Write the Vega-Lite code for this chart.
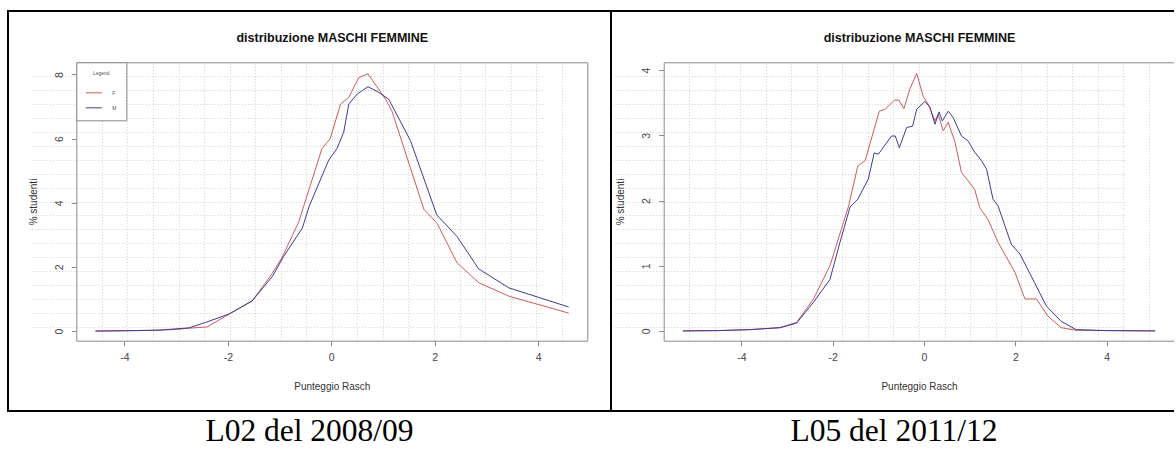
{
  "$schema": "https://vega.github.io/schema/vega-lite/v6.json",
  "padding": {"left": 7, "top": 10, "right": -4, "bottom": -4},
  "background": "white",
  "columns": 2,
  "spacing": 0,
  "bounds": "flush",
  "config": {
    "view": {"stroke": "black", "strokeWidth": 2},
    "font": "Liberation Sans",
    "axis": {"labelFont": "Liberation Sans", "titleFont": "Liberation Sans", "labelOverlap": false, "labelFlush": false}
  },
  "datasets": {
    "a": [
      {"x": -4.56, "pct": 0, "sex": "F"}, {"x": -4.0, "pct": 0.01, "sex": "F"}, {"x": -3.5, "pct": 0.02, "sex": "F"},
      {"x": -3.0, "pct": 0.05, "sex": "F"}, {"x": -2.75, "pct": 0.09, "sex": "F"}, {"x": -2.4, "pct": 0.13, "sex": "F"},
      {"x": -1.92, "pct": 0.58, "sex": "F"}, {"x": -1.53, "pct": 0.94, "sex": "F"}, {"x": -1.14, "pct": 1.8, "sex": "F"},
      {"x": -0.95, "pct": 2.3, "sex": "F"}, {"x": -0.63, "pct": 3.4, "sex": "F"}, {"x": -0.18, "pct": 5.69, "sex": "F"},
      {"x": -0.02, "pct": 6.0, "sex": "F"}, {"x": 0.18, "pct": 7.08, "sex": "F"}, {"x": 0.34, "pct": 7.29, "sex": "F"},
      {"x": 0.53, "pct": 7.9, "sex": "F"}, {"x": 0.71, "pct": 8.02, "sex": "F"}, {"x": 1.05, "pct": 7.23, "sex": "F"},
      {"x": 1.17, "pct": 6.87, "sex": "F"}, {"x": 1.79, "pct": 3.8, "sex": "F"}, {"x": 2.05, "pct": 3.35, "sex": "F"},
      {"x": 2.43, "pct": 2.13, "sex": "F"}, {"x": 2.85, "pct": 1.51, "sex": "F"}, {"x": 3.43, "pct": 1.09, "sex": "F"},
      {"x": 4.59, "pct": 0.56, "sex": "F"},
      {"x": -4.56, "pct": 0, "sex": "M"}, {"x": -4.0, "pct": 0.01, "sex": "M"}, {"x": -3.33, "pct": 0.03, "sex": "M"},
      {"x": -2.75, "pct": 0.1, "sex": "M"}, {"x": -2.43, "pct": 0.27, "sex": "M"}, {"x": -1.98, "pct": 0.53, "sex": "M"},
      {"x": -1.53, "pct": 0.94, "sex": "M"}, {"x": -1.14, "pct": 1.7, "sex": "M"}, {"x": -0.92, "pct": 2.33, "sex": "M"},
      {"x": -0.56, "pct": 3.21, "sex": "M"}, {"x": -0.43, "pct": 3.88, "sex": "M"}, {"x": -0.05, "pct": 5.33, "sex": "M"},
      {"x": 0.11, "pct": 5.69, "sex": "M"}, {"x": 0.24, "pct": 6.2, "sex": "M"}, {"x": 0.34, "pct": 7.08, "sex": "M"},
      {"x": 0.5, "pct": 7.39, "sex": "M"}, {"x": 0.71, "pct": 7.62, "sex": "M"}, {"x": 0.92, "pct": 7.44, "sex": "M"},
      {"x": 1.11, "pct": 7.23, "sex": "M"}, {"x": 1.53, "pct": 5.94, "sex": "M"}, {"x": 2.04, "pct": 3.62, "sex": "M"},
      {"x": 2.43, "pct": 2.95, "sex": "M"}, {"x": 2.85, "pct": 1.94, "sex": "M"}, {"x": 3.43, "pct": 1.35, "sex": "M"},
      {"x": 4.59, "pct": 0.75, "sex": "M"}
    ],
    "b": [
      {"x": -5.28, "pct": 0, "sex": "F"}, {"x": -4.5, "pct": 0.005, "sex": "F"}, {"x": -3.81, "pct": 0.02, "sex": "F"},
      {"x": -3.15, "pct": 0.05, "sex": "F"}, {"x": -2.79, "pct": 0.13, "sex": "F"}, {"x": -2.42, "pct": 0.49, "sex": "F"},
      {"x": -2.06, "pct": 1.0, "sex": "F"}, {"x": -1.65, "pct": 1.92, "sex": "F"}, {"x": -1.45, "pct": 2.53, "sex": "F"},
      {"x": -1.29, "pct": 2.61, "sex": "F"}, {"x": -0.98, "pct": 3.37, "sex": "F"}, {"x": -0.85, "pct": 3.4, "sex": "F"},
      {"x": -0.65, "pct": 3.54, "sex": "F"}, {"x": -0.55, "pct": 3.54, "sex": "F"}, {"x": -0.44, "pct": 3.41, "sex": "F"},
      {"x": -0.31, "pct": 3.71, "sex": "F"}, {"x": -0.16, "pct": 3.95, "sex": "F"}, {"x": -0.02, "pct": 3.6, "sex": "F"},
      {"x": 0.09, "pct": 3.48, "sex": "F"}, {"x": 0.24, "pct": 3.22, "sex": "F"}, {"x": 0.31, "pct": 3.32, "sex": "F"},
      {"x": 0.42, "pct": 3.07, "sex": "F"}, {"x": 0.53, "pct": 3.2, "sex": "F"}, {"x": 0.68, "pct": 2.89, "sex": "F"},
      {"x": 0.82, "pct": 2.43, "sex": "F"}, {"x": 0.97, "pct": 2.3, "sex": "F"}, {"x": 1.11, "pct": 2.17, "sex": "F"},
      {"x": 1.22, "pct": 1.89, "sex": "F"}, {"x": 1.4, "pct": 1.71, "sex": "F"}, {"x": 1.62, "pct": 1.36, "sex": "F"},
      {"x": 1.99, "pct": 0.9, "sex": "F"}, {"x": 2.21, "pct": 0.49, "sex": "F"}, {"x": 2.46, "pct": 0.49, "sex": "F"},
      {"x": 2.71, "pct": 0.23, "sex": "F"}, {"x": 3.0, "pct": 0.05, "sex": "F"}, {"x": 3.33, "pct": 0.01, "sex": "F"},
      {"x": 4.0, "pct": 0.005, "sex": "F"}, {"x": 5.06, "pct": 0, "sex": "F"},
      {"x": -5.28, "pct": 0, "sex": "M"}, {"x": -4.5, "pct": 0.005, "sex": "M"}, {"x": -3.81, "pct": 0.02, "sex": "M"},
      {"x": -3.15, "pct": 0.05, "sex": "M"}, {"x": -2.79, "pct": 0.12, "sex": "M"}, {"x": -2.42, "pct": 0.44, "sex": "M"},
      {"x": -2.06, "pct": 0.79, "sex": "M"}, {"x": -1.84, "pct": 1.36, "sex": "M"}, {"x": -1.62, "pct": 1.9, "sex": "M"},
      {"x": -1.45, "pct": 2.02, "sex": "M"}, {"x": -1.22, "pct": 2.33, "sex": "M"}, {"x": -1.09, "pct": 2.73, "sex": "M"},
      {"x": -1.0, "pct": 2.71, "sex": "M"}, {"x": -0.71, "pct": 2.99, "sex": "M"}, {"x": -0.63, "pct": 2.99, "sex": "M"},
      {"x": -0.54, "pct": 2.81, "sex": "M"}, {"x": -0.38, "pct": 3.12, "sex": "M"}, {"x": -0.25, "pct": 3.14, "sex": "M"},
      {"x": -0.16, "pct": 3.4, "sex": "M"}, {"x": 0.02, "pct": 3.52, "sex": "M"}, {"x": 0.13, "pct": 3.43, "sex": "M"},
      {"x": 0.24, "pct": 3.17, "sex": "M"}, {"x": 0.33, "pct": 3.36, "sex": "M"}, {"x": 0.4, "pct": 3.22, "sex": "M"},
      {"x": 0.53, "pct": 3.37, "sex": "M"}, {"x": 0.64, "pct": 3.27, "sex": "M"}, {"x": 0.82, "pct": 2.99, "sex": "M"},
      {"x": 0.97, "pct": 2.91, "sex": "M"}, {"x": 1.11, "pct": 2.74, "sex": "M"}, {"x": 1.26, "pct": 2.61, "sex": "M"},
      {"x": 1.37, "pct": 2.48, "sex": "M"}, {"x": 1.51, "pct": 2.02, "sex": "M"}, {"x": 1.62, "pct": 1.92, "sex": "M"},
      {"x": 1.91, "pct": 1.33, "sex": "M"}, {"x": 2.1, "pct": 1.18, "sex": "M"}, {"x": 2.42, "pct": 0.74, "sex": "M"},
      {"x": 2.68, "pct": 0.38, "sex": "M"}, {"x": 3.0, "pct": 0.15, "sex": "M"}, {"x": 3.33, "pct": 0.02, "sex": "M"},
      {"x": 4.0, "pct": 0.005, "sex": "M"}, {"x": 5.06, "pct": 0, "sex": "M"}
    ]
  },
  "concat": [
    {
      "width": 603,
      "height": 400,
      "data": {"name": "a"},
      "resolve": {"axis": {"x": "independent", "y": "independent"}},
      "layer": [
        {
          "transform": [{"filter": "datum.sex === 'F'"}],
          "mark": {"type": "line", "strokeWidth": 1},
          "encoding": {
            "x": {"field": "x", "type": "quantitative",
              "scale": {"domain": [-4.93, 4.95], "range": [68.3, 579.3], "nice": false, "zero": false},
              "axis": {"orient": "bottom", "offset": -70.3, "values": [-4, -2, 0, 2, 4], "grid": false,
                "labelExpr": "datum.value < 0 ? '-' + abs(datum.value) : '' + datum.value",
                "domain": true, "domainColor": "#8a8a8a", "ticks": true, "tickColor": "#8a8a8a", "tickSize": 5,
                "labelFontSize": 10.5, "labelColor": "#444", "labelPadding": 7,
                "title": "Punteggio Rasch", "titleFontSize": 10, "titleFontWeight": "normal", "titleColor": "#333", "titlePadding": 18}},
            "y": {"field": "pct", "type": "quantitative",
              "scale": {"domain": [-0.3, 8.38], "range": [329.7, 51.3], "nice": false, "zero": false},
              "axis": {"orient": "left", "offset": -68.3, "values": [0, 2, 4, 6, 8], "grid": false,
                "domain": true, "domainColor": "#8a8a8a", "ticks": true, "tickColor": "#8a8a8a", "tickSize": 5,
                "labelFontSize": 10.5, "labelColor": "#444", "labelPadding": 7, "labelAngle": 270, "labelAlign": "center", "labelBaseline": "bottom",
                "title": "% studenti", "titleFontSize": 10, "titleFontWeight": "normal", "titleColor": "#333", "titlePadding": 16}},
            "color": {"field": "sex", "type": "nominal",
              "scale": {"domain": ["F", "M"], "range": ["#d05a5a", "#3c3c96"]},
              "legend": {"title": "Legend", "orient": "none", "legendX": 68.3, "legendY": 51.3,
                "strokeColor": "#8a8a8a", "fillColor": "white", "padding": 9,
                "titleFontSize": 5, "titleFontWeight": "normal", "titleColor": "#555", "titleAnchor": "middle", "titlePadding": 8,
                "labelFontSize": 5, "labelColor": "#555", "labelOffset": 10,
                "symbolType": "stroke", "symbolSize": 256, "symbolStrokeWidth": 1, "rowPadding": 3}}
          }
        },
        {
          "transform": [{"filter": "datum.sex === 'M'"}],
          "mark": {"type": "line", "strokeWidth": 1},
          "encoding": {
            "x": {"field": "x", "type": "quantitative",
              "axis": {"orient": "top", "offset": -51.3,
                "values": [-4.436, -3.942, -3.448, -2.954, -2.46, -1.966, -1.472, -0.978, -0.484, 0.01, 0.504, 0.998, 1.492, 1.986, 2.48, 2.974, 3.468, 3.962, 4.456],
                "grid": true, "gridColor": "#d0d0d0", "gridDash": [1, 2], "gridWidth": 1,
                "labels": false, "ticks": false, "domain": true, "domainColor": "#8a8a8a",
                "title": "distribuzione MASCHI FEMMINE", "titleFontSize": 12.5, "titleFontWeight": "bold", "titleColor": "#111", "titlePadding": 18}},
            "y": {"field": "pct", "type": "quantitative",
              "axis": {"orient": "right", "offset": -23.7,
                "values": [0.134, 0.568, 1.002, 1.436, 1.87, 2.304, 2.738, 3.172, 3.606, 4.04, 4.474, 4.908, 5.342, 5.776, 6.21, 6.644, 7.078, 7.512, 7.946],
                "grid": true, "gridColor": "#d0d0d0", "gridDash": [1, 2], "gridWidth": 1,
                "labels": false, "ticks": false, "domain": true, "domainColor": "#8a8a8a", "title": null}},
            "color": {"field": "sex", "type": "nominal"}
          }
        }
      ]
    },
    {
      "width": 566,
      "height": 400,
      "data": {"name": "b"},
      "resolve": {"axis": {"x": "independent", "y": "independent"}},
      "layer": [
        {
          "transform": [{"filter": "datum.sex === 'F'"}],
          "mark": {"type": "line", "strokeWidth": 1},
          "encoding": {
            "x": {"field": "x", "type": "quantitative",
              "scale": {"domain": [-5.7, 5.48], "range": [52.7, 563.3], "nice": false, "zero": false},
              "axis": {"orient": "bottom", "offset": -70.3, "values": [-4, -2, 0, 2, 4], "grid": false,
                "labelExpr": "datum.value < 0 ? '-' + abs(datum.value) : '' + datum.value",
                "domain": true, "domainColor": "#8a8a8a", "ticks": true, "tickColor": "#8a8a8a", "tickSize": 5,
                "labelFontSize": 10.5, "labelColor": "#444", "labelPadding": 7,
                "title": "Punteggio Rasch", "titleFontSize": 10, "titleFontWeight": "normal", "titleColor": "#333", "titlePadding": 18}},
            "y": {"field": "pct", "type": "quantitative",
              "scale": {"domain": [-0.15, 4.12], "range": [329.7, 51.3], "nice": false, "zero": false},
              "axis": {"orient": "left", "offset": -52.7, "values": [0, 1, 2, 3, 4], "grid": false,
                "domain": true, "domainColor": "#8a8a8a", "ticks": true, "tickColor": "#8a8a8a", "tickSize": 5,
                "labelFontSize": 10.5, "labelColor": "#444", "labelPadding": 7, "labelAngle": 270, "labelAlign": "center", "labelBaseline": "bottom",
                "title": "% studenti", "titleFontSize": 10, "titleFontWeight": "normal", "titleColor": "#333", "titlePadding": 16}},
            "color": {"field": "sex", "type": "nominal",
              "scale": {"domain": ["F", "M"], "range": ["#d05a5a", "#3c3c96"]},
              "legend": {"title": "Legend", "orient": "none", "legendX": 52.7, "legendY": 51.3,
                "strokeColor": "#8a8a8a", "fillColor": "white", "padding": 9,
                "titleFontSize": 5, "titleFontWeight": "normal", "titleColor": "#555", "titleAnchor": "middle", "titlePadding": 8,
                "labelFontSize": 5, "labelColor": "#555", "labelOffset": 10,
                "symbolType": "stroke", "symbolSize": 256, "symbolStrokeWidth": 1, "rowPadding": 3}}
          }
        },
        {
          "transform": [{"filter": "datum.sex === 'M'"}],
          "mark": {"type": "line", "strokeWidth": 1},
          "encoding": {
            "x": {"field": "x", "type": "quantitative",
              "axis": {"orient": "top", "offset": -51.3,
                "values": [-5.141, -4.582, -4.023, -3.464, -2.905, -2.346, -1.787, -1.228, -0.669, -0.11, 0.449, 1.008, 1.567, 2.126, 2.685, 3.244, 3.803, 4.362, 4.921],
                "grid": true, "gridColor": "#d0d0d0", "gridDash": [1, 2], "gridWidth": 1,
                "labels": false, "ticks": false, "domain": true, "domainColor": "#8a8a8a",
                "title": "distribuzione MASCHI FEMMINE", "titleFontSize": 12.5, "titleFontWeight": "bold", "titleColor": "#111", "titlePadding": 18}},
            "y": {"field": "pct", "type": "quantitative",
              "axis": {"orient": "right", "offset": -2.7,
                "values": [0.0635, 0.277, 0.4905, 0.704, 0.9175, 1.131, 1.3445, 1.558, 1.7715, 1.985, 2.1985, 2.412, 2.6255, 2.839, 3.0525, 3.266, 3.4795, 3.693, 3.9065],
                "grid": true, "gridColor": "#d0d0d0", "gridDash": [1, 2], "gridWidth": 1,
                "labels": false, "ticks": false, "domain": true, "domainColor": "#8a8a8a", "title": null}},
            "color": {"field": "sex", "type": "nominal"}
          }
        }
      ]
    },
    {
      "width": 603,
      "height": 40,
      "data": {"values": [{"label": "L02 del 2008/09"}]},
      "mark": {"type": "text", "font": "Liberation Serif", "fontSize": 31.5, "baseline": "alphabetic", "dy": 9.5, "color": "black"},
      "encoding": {"text": {"field": "label", "type": "nominal"}}
    },
    {
      "width": 566,
      "height": 40,
      "data": {"values": [{"label": "L05 del 2011/12"}]},
      "mark": {"type": "text", "font": "Liberation Serif", "fontSize": 31.5, "baseline": "alphabetic", "dy": 9.5, "color": "black"},
      "encoding": {"text": {"field": "label", "type": "nominal"}}
    }
  ]
}
